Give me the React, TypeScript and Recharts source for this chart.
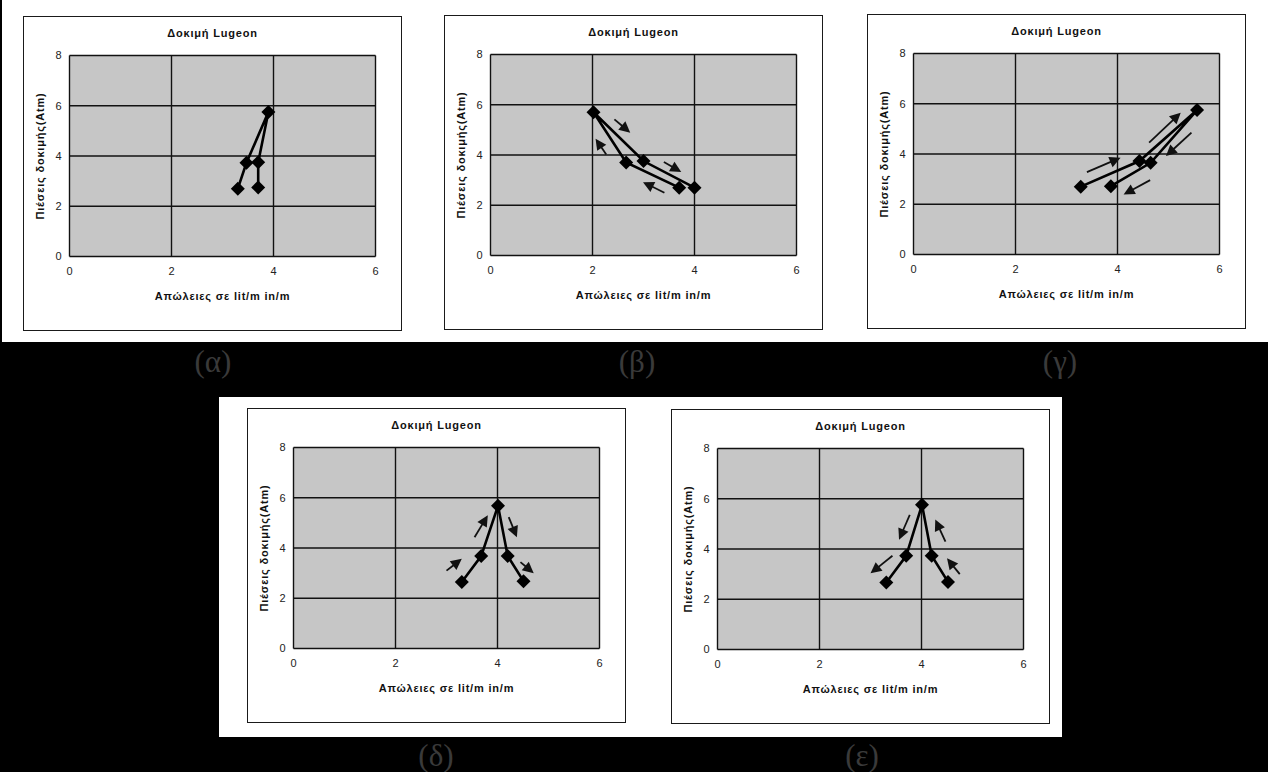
import React from 'react';
import { ScatterChart, Scatter, XAxis, YAxis, CartesianGrid, ReferenceLine } from 'recharts';

// tick values shared by all five panels
const xTicks = [0, 2, 4, 6];
const yTicks = [0, 2, 4, 6, 8];

const chartTitle = 'Δοκιμή Lugeon';
const xTitle = 'Απώλειες σε lit/m in/m';
const yTitle = 'Πιέσεις δοκιμής(Atm)';

// (α)
const alphaLoss = [3.3, 3.47, 3.9, 3.7, 3.7];
const alphaPressure = [2.7, 3.73, 5.75, 3.75, 2.75];
// (β)
const betaLoss = [3.7, 2.66, 2.02, 3.0, 4.0];
const betaPressure = [2.7, 3.7, 5.7, 3.76, 2.7];
// (γ)
const gammaLoss = [3.28, 4.43, 5.56, 4.65, 3.87];
const gammaPressure = [2.7, 3.72, 5.75, 3.65, 2.72];
// (δ)
const deltaLoss = [3.3, 3.68, 4.01, 4.2, 4.51];
const deltaPressure = [2.65, 3.68, 5.68, 3.68, 2.68];
// (ε)
const epsilonLoss = [4.52, 4.2, 4.01, 3.7, 3.31];
const epsilonPressure = [2.69, 3.73, 5.76, 3.73, 2.67];

// arrows drawn on the charts: [fromLoss, fromPressure, toLoss, toPressure]
const betaArrows = [
  [2.43, 5.42, 2.74, 4.89],
  [2.27, 4.02, 2.06, 4.65],
  [3.4, 3.72, 3.74, 3.32],
  [3.41, 2.5, 2.99, 2.92],
];
const gammaArrows = [
  [3.4, 3.28, 4.06, 3.85],
  [4.62, 4.45, 5.24, 5.64],
  [5.45, 4.85, 4.95, 3.92],
  [4.64, 2.96, 4.12, 2.39],
];
const deltaArrows = [
  [3.0, 3.1, 3.3, 3.57],
  [3.55, 4.43, 3.81, 5.3],
  [4.22, 5.23, 4.38, 4.43],
  [4.45, 3.44, 4.71, 3.0],
];
const epsilonArrows = [
  [3.77, 5.36, 3.56, 4.37],
  [3.43, 3.73, 3.0, 3.03],
  [4.47, 4.29, 4.27, 5.17],
  [4.75, 3.0, 4.5, 3.63],
];

const FONT = '"Liberation Sans", Arial, sans-serif';
const FRAME_W = 379;
const FRAME_H = 315;
const BORDER = 1.5;

const Diamond = (props: any) => {
  const { cx, cy } = props;
  const r = 7;
  return <polygon points={`${cx},${cy - r} ${cx + r},${cy} ${cx},${cy + r} ${cx - r},${cy}`} fill="#000" />;
};

const ArrowShape = (props: any) => {
  const { x1, y1, x2, y2 } = props;
  const dx = x2 - x1;
  const dy = y2 - y1;
  const len = Math.hypot(dx, dy) || 1;
  const ux = dx / len;
  const uy = dy / len;
  const headLen = 11;
  const headW = 5.5;
  const bx = x2 - ux * headLen;
  const by = y2 - uy * headLen;
  const pts = `${x2},${y2} ${bx - uy * headW},${by + ux * headW} ${bx + uy * headW},${by - ux * headW}`;
  return (
    <g>
      <line x1={x1} y1={y1} x2={bx + ux} y2={by + uy} stroke="#111" strokeWidth={1.8} />
      <polygon points={pts} fill="#111" />
    </g>
  );
};

interface PanelProps {
  left: number;
  top: number;
  loss: number[];
  pressure: number[];
  arrows: number[][];
}

const Panel: React.FC<PanelProps> = ({ left, top, loss, pressure, arrows }) => {
  const data = loss.map((x, i) => ({ x, y: pressure[i] }));
  return (
    <div
      style={{
        position: 'absolute',
        left,
        top,
        width: FRAME_W,
        height: FRAME_H,
        boxSizing: 'border-box',
        border: `${BORDER}px solid #1a1a1a`,
        background: '#fff',
      }}
    >
      <div
        style={{
          position: 'absolute',
          left: 0,
          right: 0,
          top: 10,
          textAlign: 'center',
          fontFamily: FONT,
          fontWeight: 'bold',
          fontSize: 11,
          letterSpacing: 0.8,
          color: '#111',
        }}
      >
        {chartTitle}
      </div>
      <ScatterChart
        width={FRAME_W - 2 * BORDER}
        height={FRAME_H - 2 * BORDER}
        margin={{ top: 38.5, right: 24.5, bottom: 42.5, left: 15.5 }}
      >
        <CartesianGrid stroke="#111" strokeWidth={1.4} fill="#c6c6c6" fillOpacity={1} />
        <XAxis
          type="number"
          dataKey="x"
          domain={[0, 6]}
          ticks={xTicks}
          interval={0}
          height={30}
          axisLine={false}
          tickLine={false}
          tickMargin={5}
          tick={{ fill: '#222', fontSize: 11, fontFamily: FONT }}
          label={{
            value: xTitle,
            position: 'bottom',
            offset: 6,
            style: { fill: '#111', fontSize: 11, fontWeight: 'bold', fontFamily: FONT, letterSpacing: 0.8 },
          }}
        />
        <YAxis
          type="number"
          dataKey="y"
          domain={[0, 8]}
          ticks={yTicks}
          interval={0}
          width={30}
          axisLine={false}
          tickLine={false}
          tick={{ fill: '#222', fontSize: 11, fontFamily: FONT }}
          label={{
            value: yTitle,
            angle: -90,
            position: 'insideLeft',
            offset: 1,
            style: { textAnchor: 'middle', fill: '#111', fontSize: 11, fontWeight: 'bold', fontFamily: FONT, letterSpacing: 0.8 },
          }}
        />
        {arrows.map((a, i) => (
          <ReferenceLine
            key={i}
            segment={[{ x: a[0], y: a[1] }, { x: a[2], y: a[3] }]}
            ifOverflow="visible"
            shape={ArrowShape}
          />
        ))}
        <Scatter
          data={data}
          line={{ stroke: '#000', strokeWidth: 2.6 }}
          lineType="joint"
          shape={Diamond}
          isAnimationActive={false}
        />
      </ScatterChart>
    </div>
  );
};

const Caption = ({ text, x, y }: { text: string; x: number; y: number }) => (
  <div
    style={{
      position: 'absolute',
      left: x - 40,
      width: 80,
      top: y - 19,
      textAlign: 'center',
      fontFamily: '"Liberation Serif", "DejaVu Serif", serif',
      fontSize: 31,
      lineHeight: '38px',
      color: '#3a3a3a',
    }}
  >
    {text}
  </div>
);

export default function App() {
  return (
    <div
      style={{
        position: 'absolute',
        left: 0,
        top: 0,
        width: 1268,
        height: 772,
        background: '#000',
        overflow: 'hidden',
      }}
    >
      <div style={{ position: 'absolute', left: 2, top: 0, width: 1266, height: 342, background: '#fff' }} />
      <div style={{ position: 'absolute', left: 219, top: 397, width: 843, height: 340, background: '#fff' }} />
      <Panel left={23} top={16} loss={alphaLoss} pressure={alphaPressure} arrows={[]} />
      <Panel left={444} top={15} loss={betaLoss} pressure={betaPressure} arrows={betaArrows} />
      <Panel left={867} top={14} loss={gammaLoss} pressure={gammaPressure} arrows={gammaArrows} />
      <Panel left={247} top={408} loss={deltaLoss} pressure={deltaPressure} arrows={deltaArrows} />
      <Panel left={671} top={409} loss={epsilonLoss} pressure={epsilonPressure} arrows={epsilonArrows} />
      <Caption text="(α)" x={213} y={362} />
      <Caption text="(β)" x={637} y={362} />
      <Caption text="(γ)" x={1060} y={362} />
      <Caption text="(δ)" x={436} y={756} />
      <Caption text="(ε)" x={862} y={756} />
    </div>
  );
}
